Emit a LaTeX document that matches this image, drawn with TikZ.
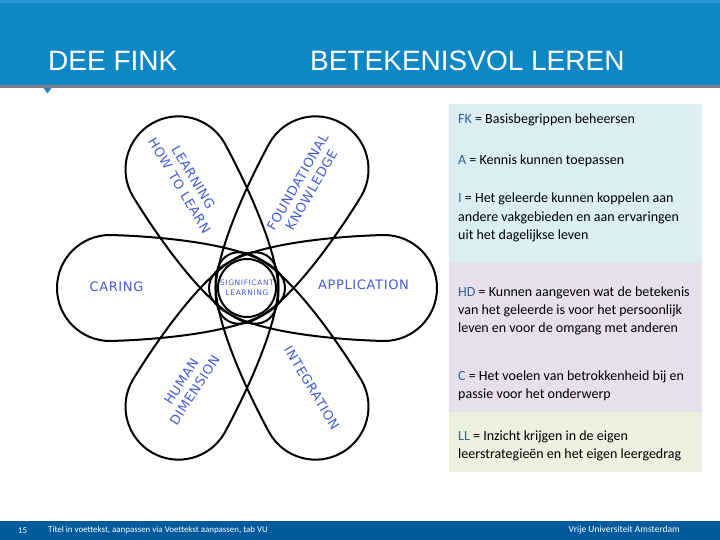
\documentclass[tikz,border=0pt]{standalone}
\usepackage{fontspec}
\setmainfont{Liberation Sans}
\newfontfamily\petalfont[LetterSpace=5]{DejaVu Sans}
\newfontfamily\centerfont[LetterSpace=8]{DejaVu Sans}
\newfontfamily\panelfont{Carlito}
\definecolor{headblue}{RGB}{14,135,197}
\definecolor{headlight}{RGB}{40,152,212}
\definecolor{headgray}{RGB}{125,128,132}
\definecolor{markblue}{RGB}{40,130,190}
\definecolor{footblue}{RGB}{0,90,155}
\definecolor{panelblue}{RGB}{218,238,243}
\definecolor{panellav}{RGB}{229,224,236}
\definecolor{panelgreen}{RGB}{235,241,222}
\definecolor{keyblue}{RGB}{55,96,146}
\definecolor{petalblue}{RGB}{66,92,214}
\newcommand{\keyw}[1]{\textcolor{keyblue}{#1}}
\begin{document}
\begin{tikzpicture}[x=1pt,y=-1pt,
  titletext/.style={anchor=base west, inner sep=0pt, text=white, font=\fontsize{28}{30}\selectfont},
  ptext/.style={anchor=base west, inner sep=0pt, text=black, font=\panelfont\fontsize{14}{16}\selectfont},
  foottext/.style={anchor=west, inner sep=0pt, text=white, font=\panelfont\fontsize{8.9}{10}\selectfont},
  petal/.style={draw=black, line width=2pt, line join=round},
  plabel/.style={inner sep=0pt, text=petalblue, align=center, font=\petalfont\fontsize{13}{16}\selectfont}]
\useasboundingbox (0,0) rectangle (720,540);
\fill[white] (0,0) rectangle (720,540);
% header
\fill[headblue] (0,0) rectangle (720,85);
\fill[headlight] (0,0) rectangle (720,3);
\fill[headgray] (0,85) rectangle (720,88);
\fill[markblue] (43.5,88) -- (51.5,88) -- (47.5,93.5) -- cycle;
\node[titletext] (t1) at (48,70.7) {DEE FINK};
\node[titletext] (t2) at (310,70.7) {BETEKENISVOL LEREN};
% panel
\fill[panelblue] (449,104) rectangle (702,262);
\fill[panellav] (449,262) rectangle (702,412);
\fill[panelgreen] (449,412) rectangle (702,472);
\node[ptext] (l1) at (458,124) {\keyw{FK} = Basisbegrippen beheersen};
\node[ptext] (l2) at (458,164.5) {\keyw{A} = Kennis kunnen toepassen};
\node[ptext] (l3) at (458,203) {\keyw{I} = Het geleerde kunnen koppelen aan};
\node[ptext] (l4) at (458,221.5) {andere vakgebieden en aan ervaringen};
\node[ptext] (l5) at (458,240) {uit het dagelijkse leven};
\node[ptext] (l6) at (458,296) {\keyw{HD} = Kunnen aangeven wat de betekenis};
\node[ptext] (l7) at (458,314) {van het geleerde is voor het persoonlijk};
\node[ptext] (l8) at (458,332) {leven en voor de omgang met anderen};
\node[ptext] (l9) at (458,380) {\keyw{C} = Het voelen van betrokkenheid bij en};
\node[ptext] (l10) at (458,398) {passie voor het onderwerp};
\node[ptext] (l11) at (458,440) {\keyw{LL} = Inzicht krijgen in de eigen};
\node[ptext] (l12) at (458,458) {leerstrategieën en het eigen leergedrag};
% flower
\begin{scope}[shift={(247,288)}]
\foreach \a in {0,60,...,300}{
  \draw[petal, rotate=\a] (137,53)
    arc[start angle=90, end angle=-90, radius=53]
    .. controls (95,-52) and (-38,-44) .. (-38,0)
    .. controls (-38,44) and (95,52) .. (137,53) -- cycle;
}
\end{scope}
\node[petal, circle, minimum size=58pt, inner sep=0pt, text=petalblue, align=center,
  font=\centerfont\fontsize{7.5}{10}\selectfont] (sl) at (247,288) {SIGNIFICANT\\LEARNING};
\node[plabel] (caring) at (116.5,287) {CARING};
\node[plabel] (appl) at (363.5,285) {APPLICATION};
\node[plabel, rotate=-59] (lhl) at (186.5,181.5) {LEARNING\\HOW TO LEARN};
\node[plabel, rotate=60] (fk) at (304.5,186) {FOUNDATIONAL\\KNOWLEDGE};
\node[plabel, rotate=57] (hd) at (188,386) {HUMAN\\DIMENSION};
\node[plabel, rotate=-59] (integ) at (312,388) {INTEGRATION};
% footer
\fill[footblue] (0,521) rectangle (720,540);
\node[foottext] (pg) at (18,530.5) {15};
\node[foottext] (ft) at (48,530.5) {Titel in voettekst, aanpassen via Voettekst aanpassen, tab VU};
\node[foottext, anchor=east, font=\panelfont\fontsize{9.5}{10}\selectfont] (vu) at (680,530.5) {Vrije Universiteit Amsterdam};
\end{tikzpicture}
\end{document}
